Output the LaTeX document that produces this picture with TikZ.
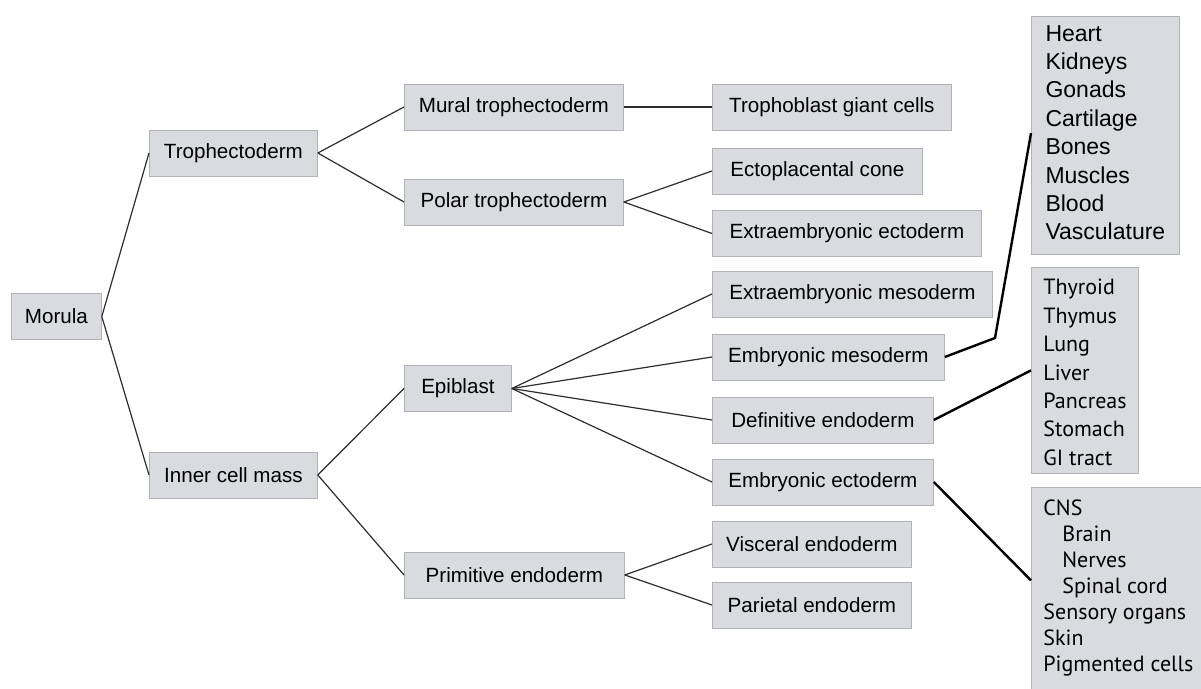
\documentclass[tikz,border=0pt]{standalone}
\usepackage{fontspec}
\setmainfont{Liberation Sans}
\newfontfamily\listfont{PT Sans}
\usepackage{tikz}
\usetikzlibrary{calc}
\usepackage{xcolor}
\definecolor{cellfill}{RGB}{217,219,222}
\definecolor{cellline}{RGB}{178,179,182}
\definecolor{linkgray}{RGB}{45,45,45}
\newcommand{\organ}[1]{\hbox{#1}}
\newcommand{\suborgan}[1]{\hbox{\kern9.5pt#1}}
\newcommand{\organstack}[2]{\vbox to #1{#2\vss}}
\tikzset{
  cell/.style={rectangle, draw=cellline, fill=cellfill, anchor=west, minimum width=#1,
               minimum height=23pt, inner xsep=5pt, inner ysep=0pt, font=\fontsize{10.3}{12}\selectfont},
  organlist/.style={rectangle, draw=cellline, fill=cellfill, anchor=north west,
                    inner xsep=6pt, inner ysep=6pt},
  link/.style={draw=linkgray, line width=0.6pt},
  biglink/.style={draw=black, line width=1.2pt},
}
\begin{document}
\begin{tikzpicture}[x=0.5pt, y=-0.5pt]
\useasboundingbox (0,0) rectangle (1201,689);
\clip (0,0) rectangle (1201,689);
\node[cell=45pt] (morula) at (11,316.5) {Morula};
\node[cell=84pt] (troph) at (149,153) {Trophectoderm};
\node[cell=84pt] (icm) at (149,475) {Inner cell mass};
\node[cell=109.5pt] (mural) at (404,107) {Mural trophectoderm};
\node[cell=109.5pt] (polar) at (404,202) {Polar trophectoderm};
\node[cell=53.5pt] (epiblast) at (404,388.5) {Epiblast};
\node[cell=110pt] (primendo) at (404,575) {Primitive endoderm};
\node[cell=119.5pt] (tgc) at (712,107) {Trophoblast giant cells};
\node[cell=105pt] (ectocone) at (712,171) {Ectoplacental cone};
\node[cell=134.5pt] (execto) at (712,233.5) {Extraembryonic ectoderm};
\node[cell=140pt] (exmeso) at (712,294) {Extraembryonic mesoderm};
\node[cell=116pt] (embmeso) at (712,357) {Embryonic mesoderm};
\node[cell=110.5pt] (defendo) at (712,420) {Definitive endoderm};
\node[cell=110.5pt] (embecto) at (712,482) {Embryonic ectoderm};
\node[cell=99.5pt] (visceral) at (712,544) {Visceral endoderm};
\node[cell=99.5pt] (parietal) at (712,605) {Parietal endoderm};
\node[organlist, minimum width=74pt, inner ysep=4.4pt, font=\fontsize{11.5}{14.2}\selectfont] (mesolist) at (1031,16)
  {\organstack{110pt}{\organ{Heart}\organ{Kidneys}\organ{Gonads}\organ{Cartilage}\organ{Bones}\organ{Muscles}\organ{Blood}\organ{Vasculature}}};
\node[organlist, minimum width=53pt, font=\listfont\fontsize{11}{14.2}\selectfont] (endolist) at (1031,267)
  {\organstack{91pt}{\organ{Thyroid}\organ{Thymus}\organ{Lung}\organ{Liver}\organ{Pancreas}\organ{Stomach}\organ{GI tract}}};
\node[organlist, font=\listfont\fontsize{11}{13}\selectfont] (ectolist) at (1031,487)
  {\organstack{95pt}{\organ{CNS}\suborgan{Brain}\suborgan{Nerves}\suborgan{Spinal cord}\organ{Sensory organs}\organ{Skin}\organ{Pigmented cells}}};
\draw[link] (morula.east) -- (troph.west);
\draw[link] (morula.east) -- (icm.west);
\draw[link] (troph.east) -- (mural.west);
\draw[link] (troph.east) -- (polar.west);
\draw[link] (mural.east) -- (tgc.west);
\draw[link] (polar.east) -- (ectocone.west);
\draw[link] (polar.east) -- (execto.west);
\draw[link] (icm.east) -- (epiblast.west);
\draw[link] (icm.east) -- (primendo.west);
\foreach \target in {exmeso,embmeso,defendo,embecto}
  \draw[link] (epiblast.east) -- (\target.west);
\draw[link] (primendo.east) -- (visceral.west);
\draw[link] (primendo.east) -- (parietal.west);
\coordinate (mesobend) at (995,338);
\draw[biglink] (embmeso.east) -- (mesobend) -- ([yshift=1pt]mesolist.west);
\draw[biglink] (defendo.east) -- (endolist.west);
\draw[biglink] (embecto.east) -- ([yshift=7pt]ectolist.west);
\end{tikzpicture}
\end{document}
